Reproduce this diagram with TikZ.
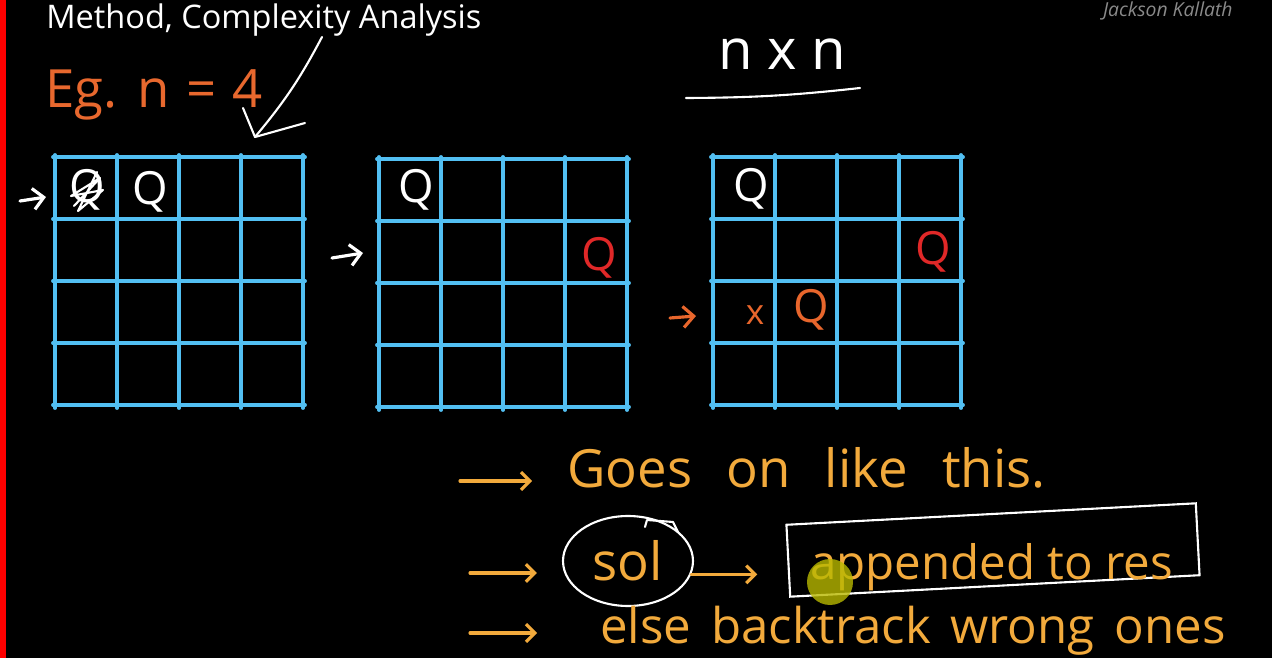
\documentclass[tikz,border=0pt]{standalone}
\usepackage{fontspec}
\setmainfont{Open Sans}
\usetikzlibrary{arrows.meta,calc,positioning,shapes.geometric}
\definecolor{gridblue}{HTML}{52BFF2}
\definecolor{egorange}{HTML}{E8682E}
\definecolor{qred}{HTML}{E02828}
\definecolor{qorange}{HTML}{E8662C}
\definecolor{handyel}{HTML}{F2AA3C}
\definecolor{hilite}{HTML}{B8B800}
\definecolor{wmgray}{HTML}{8A8A8A}

\begin{document}
\begin{tikzpicture}[x=0.02cm,y=-0.02cm,
  gridline/.style={gridblue,line width=2.2pt,line cap=round},
  chalk/.style={white,line width=1.2pt,line cap=round,line join=round},
  rowarrow/.style={line width=1.8pt,line cap=round,-{Straight Barb[length=6pt,width=12pt]}},
  handarrow/.style={handyel,line width=1.8pt,line cap=round,-{Straight Barb[length=5pt,width=10pt]}},
  queen/.style={font=\fontsize{26}{26}\selectfont,inner sep=0pt},
  hand/.style={handyel,inner sep=0pt,anchor=base west}]
\fill[black] (0,0) rectangle (1272,658);
\useasboundingbox (0,0) rectangle (1272,658);
\fill[red] (0,0) rectangle (6,658);
% watermark
\node[wmgray,anchor=base east,inner sep=0pt,font=\itshape\fontsize{11}{11}\selectfont] (wm) at (1233,17) {Jackson Kallath};

\node[white,anchor=base west,inner sep=0pt,font=\fontsize{18.5}{20}\selectfont] (title) at (46,29) {Method, Complexity Analysis};
\node[egorange,anchor=base west,inner sep=0pt,font={\fontsize{30}{30}\selectfont\spaceskip=.3em\relax}] (eg) at (45,108) {Eg. n = 4};

% tick arrow
\coordinate (tickTop) at (322,37);
\coordinate (tickTip) at (255,137);
\coordinate (tickL) at (243,108);
\coordinate (tickR) at (305,123);
\draw[chalk] (tickTop) to[bend left=6] (tickTip);
\draw[chalk] (tickL) -- (tickTip) -- (tickR);

% n x n
\node[white,inner sep=0pt,font=\fontsize{32}{32}\selectfont] (nxn) at (782,54) {n x n};
\coordinate (ulL) at (686,98);
\coordinate (ulR) at (860,88);
\draw[chalk] (ulL) to[bend right=3] (ulR);

% boards
\foreach \ox/\oy/\g in {55/157/a,379/159/b,713/157/c}{
  \foreach \i in {0,...,4}{
    \draw[gridline] (\ox+62*\i,\oy-2) -- (\ox+62*\i,\oy+251);
    \draw[gridline] (\ox-2,\oy+62*\i) -- (\ox+250,\oy+62*\i);
  }
  \coordinate (\g) at (\ox,\oy);
}

% board 1
\node[queen,white] (qa1) at (87,190) {Q};
\draw[chalk] (74,206) -- (100,178) -- (71,196) -- (103,190) -- (78,211) -- (97,172);
\node[queen,white] (qa2) at (150,192) {Q};
\coordinate (inA) at (20,201);
\coordinate (toA) at (46,197);
\draw[rowarrow,white] (inA) -- (toA);

% board 2
\node[queen,white] (qb1) at (416,190) {Q};
\node[queen,qred] (qb2) at (599,258) {Q};
\coordinate (inB) at (332,258);
\coordinate (toB) at (363,253);
\draw[rowarrow,white] (inB) -- (toB);

% board 3
\node[queen,white] (qc1) at (751,189) {Q};
\node[queen,qred] (qc2) at (933,252) {Q};
\node[queen,qorange,font=\fontsize{20}{20}\selectfont] (xc) at (755,315) {x};
\node[queen,qorange] (qc3) at (811,310) {Q};
\coordinate (inC) at (670,318);
\coordinate (toC) at (696,316);
\draw[rowarrow,qorange] (inC) -- (toC);

% notes
\coordinate (t1) at (460,481);
\node[hand,font={\fontsize{30}{30}\selectfont\spaceskip=.65em\relax}] (goes) at (567,488) {Goes on like this.};
\draw[handarrow,shorten >=0.7cm] (t1) -- (t1 -| goes.west);

\coordinate (t2) at (470,573);
\node[ellipse,draw=white,line width=1.2pt,text=handyel,inner sep=0pt,minimum width=2.6cm,minimum height=1.8cm,font=\fontsize{30}{30}\selectfont] (sol) at (628,561) {sol};
\coordinate (hookA) at (645,527);
\coordinate (hookB) at (647,520);
\coordinate (hookC) at (673,522);
\coordinate (hookD) at (678,532);
\draw[chalk] (hookA) -- (hookB) -- (hookC) -- (hookD);
\draw[handarrow,shorten >=0.5cm] (t2) -- (t2 -| sol.west);

\node[draw=white,line width=1.2pt,rotate=3,minimum width=8.2cm,minimum height=1.44cm] (resbox) at (993,550) {};
\node[hand,font=\fontsize{27}{27}\selectfont] (res) at (810,580) {appended to res};
\draw[handarrow,shorten >=0.6cm] (sol.-12) -- (sol.-12 -| resbox.west);
\coordinate (hl) at (830,582);
\fill[hilite,opacity=.8] (hl) circle (23);

\coordinate (t3) at (470,633);
\node[hand,font={\fontsize{28}{28}\selectfont\spaceskip=.4em\relax}] (els) at (600,643) {else backtrack wrong ones};
\draw[handarrow,shorten >=1.26cm] (t3) -- (t3 -| els.west);
\end{tikzpicture}
\end{document}
